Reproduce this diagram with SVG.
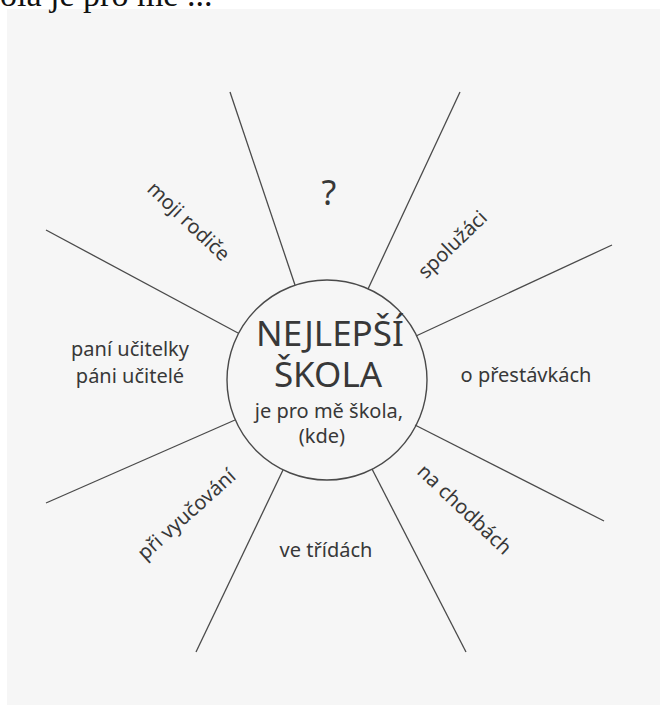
<svg xmlns="http://www.w3.org/2000/svg" width="667" height="708" viewBox="0 0 667 708">
<style>
.lbl{font-family:"Noto Sans","Open Sans","DejaVu Sans",sans-serif;fill:#383838;font-size:20px;text-anchor:middle}
.spoke{stroke:#4a4a4a;stroke-width:1.3;fill:none}
.big{font-size:35px}
.sub{font-size:20px}
.q{font-size:34px}
</style>
<rect x="0" y="0" width="667" height="708" fill="#ffffff"/>
<rect x="7" y="9" width="653" height="696" fill="#f6f6f6"/>
<text x="0" y="6" font-family="'Liberation Serif',serif" font-size="34" fill="#111">ola je pro mě ...</text>
<g id="connectors">
<line class="spoke" x1="230" y1="92" x2="295" y2="285"/>
<line class="spoke" x1="460" y1="92" x2="368" y2="289"/>
<line class="spoke" x1="612" y1="245" x2="416" y2="336"/>
<line class="spoke" x1="604" y1="521" x2="415" y2="425"/>
<line class="spoke" x1="466" y1="652" x2="372" y2="469"/>
<line class="spoke" x1="196" y1="652" x2="283" y2="470"/>
<line class="spoke" x1="46" y1="503" x2="235" y2="420"/>
<line class="spoke" x1="46" y1="230" x2="238" y2="333"/>
</g>
<g id="center">
<circle cx="327" cy="380" r="100" fill="none" stroke="#4a4a4a" stroke-width="1.4"/>
<text class="lbl big" x="330" y="346">NEJLEPŠÍ</text>
<text class="lbl big" x="328" y="387">ŠKOLA</text>
<text class="lbl sub" x="329" y="418">je pro mě škola,</text>
<text class="lbl sub" x="322" y="443">(kde)</text>
</g>
<g id="n-question"><text class="lbl q" x="329" y="205">?</text></g>
<g id="n-rodice"><text class="lbl" transform="translate(188,222) rotate(43.5)" x="0" y="6">moji rodiče</text></g>
<g id="n-spoluzaci"><text class="lbl" transform="translate(453,245) rotate(-44)" x="0" y="6">spolužáci</text></g>
<g id="n-ucitele"><text class="lbl" x="130" y="356">paní učitelky</text><text class="lbl" x="130" y="383">páni učitelé</text></g>
<g id="n-prestavky"><text class="lbl" x="526" y="382">o přestávkách</text></g>
<g id="n-vyucovani"><text class="lbl" transform="translate(187,515) rotate(-42)" x="0" y="6">při vyučování</text></g>
<g id="n-chodby"><text class="lbl" transform="translate(464,510) rotate(43.5)" x="0" y="6">na chodbách</text></g>
<g id="n-tridy"><text class="lbl" x="326" y="557">ve třídách</text></g>
</svg>
